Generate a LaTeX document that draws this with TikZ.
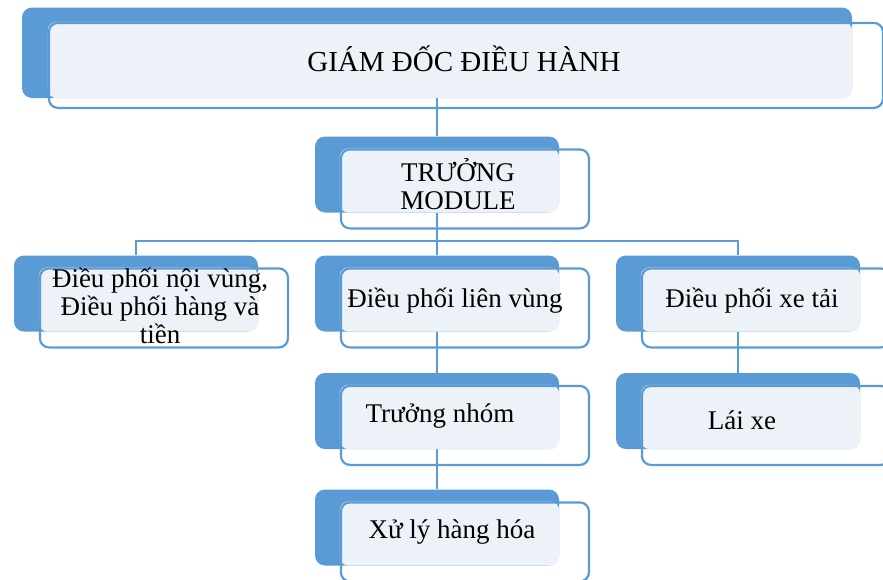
\documentclass[tikz,border=0pt]{standalone}
\usepackage{fontspec}
\setmainfont{Liberation Serif}
\definecolor{smblue}{RGB}{91, 155, 213}
\definecolor{smlight}{RGB}{237, 242, 249}
\usetikzlibrary{positioning, backgrounds}

\begin{document}
\begin{tikzpicture}[x=1pt, y=-1pt,
  backbox/.style={fill=smblue, rounded corners=10pt, minimum width=244pt, minimum height=76pt, inner sep=0pt},
  framebox/.style={draw=smblue, line width=2.2pt, rounded corners=9pt, minimum width=248pt, minimum height=79pt, inner sep=0pt},
  lightfill/.style={fill=smlight, rounded corners=9pt},
  boxtext/.style={font=\fontsize{27}{28}\selectfont, align=center, inner sep=0pt},
  link/.style={draw=smblue, line width=2pt}
]
  \useasboundingbox (0,0) rectangle (883,579);
  \clip (0,0) rectangle (883,579);

  % top
  \node[backbox, minimum width=830pt, minimum height=90.5pt] (gd-back) at (437,52.75) {};
  \fill[lightfill] ([shift={(26,14.5)}]gd-back.north west) rectangle (gd-back.south east);
  \node[framebox, minimum width=834pt, minimum height=85pt, below right=14.5pt and 26pt of gd-back.north west] (gd) {};
  \node[boxtext, font=\fontsize{29}{31}\selectfont] (gd-text) at (464,58.5) {GIÁM ĐỐC ĐIỀU HÀNH};

  % module
  \node[backbox] (tm-back) at (437,174.5) {};
  \fill[lightfill] ([shift={(25,12)}]tm-back.north west) rectangle (tm-back.south east);
  \node[framebox, below right=12pt and 25pt of tm-back.north west] (tm) {};
  \node[boxtext] (tm-text) at (458,184) {TRƯỞNG\\MODULE};

  % second row
  \node[backbox] (nv-back) at (136,293.5) {};
  \fill[lightfill] ([shift={(25,12)}]nv-back.north west) rectangle (nv-back.south east);
  \node[framebox, below right=12pt and 25pt of nv-back.north west] (nv) {};
  \node[boxtext] (nv-text) at (160,306) {Điều phối nội vùng,\\Điều phối hàng và\\tiền};

  \node[backbox] (lv-back) at (437,293.5) {};
  \fill[lightfill] ([shift={(25,12)}]lv-back.north west) rectangle (lv-back.south east);
  \node[framebox, below right=12pt and 25pt of lv-back.north west] (lv) {};
  \node[boxtext] (lv-text) at (455,301) {Điều phối liên vùng};

  \node[backbox] (xt-back) at (738,293.5) {};
  \fill[lightfill] ([shift={(25,12)}]xt-back.north west) rectangle (xt-back.south east);
  \node[framebox, below right=12pt and 25pt of xt-back.north west] (xt) {};
  \node[boxtext] (xt-text) at (752,301) {Điều phối xe tải};

  % third row
  \node[backbox] (tn-back) at (437,411) {};
  \fill[lightfill] ([shift={(25,12)}]tn-back.north west) rectangle (tn-back.south east);
  \node[framebox, below right=12pt and 25pt of tn-back.north west] (tn) {};
  \node[boxtext] (tn-text) at (440,416) {Trưởng nhóm};

  \node[backbox] (lx-back) at (738,411) {};
  \fill[lightfill] ([shift={(25,12)}]lx-back.north west) rectangle (lx-back.south east);
  \node[framebox, below right=12pt and 25pt of lx-back.north west] (lx) {};
  \node[boxtext] (lx-text) at (742,420) {Lái xe};

  % bottom
  \node[backbox] (xl-back) at (437,527.5) {};
  \fill[lightfill] ([shift={(25,12)}]xl-back.north west) rectangle (xl-back.south east);
  \node[framebox, below right=12pt and 25pt of xl-back.north west] (xl) {};
  \node[boxtext] (xl-text) at (452,532) {Xử lý hàng hóa};

  % connectors
  \begin{scope}[on background layer]
    \coordinate (bus) at (437,241);
    \draw[link] (gd-back) -- (tm-back);
    \draw[link] (tm-back) -- (bus);
    \draw[link] (bus) -| (nv-back);
    \draw[link] (bus) -| (xt-back);
    \draw[link] (bus) -- (lv-back);
    \draw[link] (lv-back) -- (tn-back);
    \draw[link] (tn-back) -- (xl-back);
    \draw[link] (xt-back) -- (lx-back);
  \end{scope}
\end{tikzpicture}
\end{document}
